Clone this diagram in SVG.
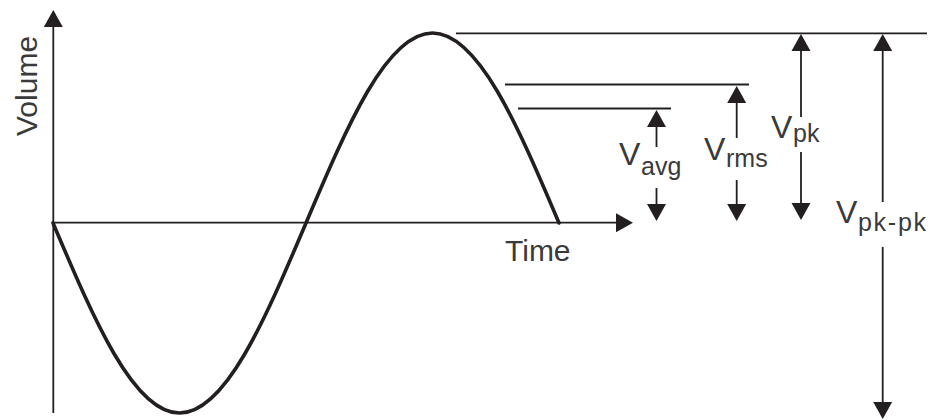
<svg xmlns="http://www.w3.org/2000/svg" width="941" height="420" viewBox="0 0 941 420">
<style>
.ln{stroke:#231f20;stroke-width:1.8;fill:none}
.wave{stroke:#231f20;stroke-width:3.6;fill:none;stroke-linecap:round}
.lbl{font-family:"Liberation Sans",Arial,sans-serif;fill:#3a3a3a}
.big{font-size:32px}
.sub{font-size:25px}
</style>
<defs>
<marker id="ah" markerUnits="userSpaceOnUse" markerWidth="18" markerHeight="20" refX="0" refY="9.5" orient="auto" viewBox="0 0 18 19">
<path d="M0,0 L17,9.5 L0,19 Z" fill="#231f20"/>
</marker>
</defs>
<rect width="941" height="420" fill="#fff"/>
<g id="axes">
<line class="ln" x1="53.3" y1="413" x2="53.3" y2="27" marker-end="url(#ah)"/>
<line class="ln" x1="53" y1="222.7" x2="616" y2="222.7" marker-end="url(#ah)"/>
<text class="lbl" font-size="30" transform="translate(37,136) rotate(-90)">Volume</text>
<text class="lbl" font-size="30" x="505" y="261">Time</text>
</g>
<g id="wave">
<path class="wave" d="M53,223 C94.25,320.3 133.7,413 179.5,413 C225.3,413 264.75,320.3 306,223 C347.25,125.7 386.7,33 432.5,33 C478.3,33 517.75,125.7 559,223"/>
</g>
<g id="levels">
<line class="ln" x1="456" y1="33.3" x2="927" y2="33.3"/>
<line class="ln" x1="505" y1="84.5" x2="749" y2="84.5"/>
<line class="ln" x1="518" y1="108.5" x2="671" y2="108.5"/>
</g>
<g id="connectors">
<line class="ln" x1="656.5" y1="147" x2="656.5" y2="127" marker-end="url(#ah)"/>
<line class="ln" x1="656.5" y1="188" x2="656.5" y2="204" marker-end="url(#ah)"/>
<line class="ln" x1="736.7" y1="138" x2="736.7" y2="103" marker-end="url(#ah)"/>
<line class="ln" x1="736.7" y1="180" x2="736.7" y2="204" marker-end="url(#ah)"/>
<line class="ln" x1="801" y1="117" x2="801" y2="51" marker-end="url(#ah)"/>
<line class="ln" x1="801" y1="152" x2="801" y2="203" marker-end="url(#ah)"/>
<line class="ln" x1="882.7" y1="202" x2="882.7" y2="51" marker-end="url(#ah)"/>
<line class="ln" x1="882.7" y1="247" x2="882.7" y2="402" marker-end="url(#ah)"/>
</g>
<g id="label-vavg">
<text class="lbl big" x="619" y="165">V</text>
<text class="lbl sub" x="641" y="175">avg</text>
</g>
<g id="label-vrms">
<text class="lbl big" x="704" y="160">V</text>
<text class="lbl sub" x="726" y="167">rms</text>
</g>
<g id="label-vpk">
<text class="lbl big" x="771" y="138">V</text>
<text class="lbl sub" x="793" y="142">pk</text>
</g>
<g id="label-vpkpk">
<text class="lbl big" x="836" y="223">V</text>
<text class="lbl sub" x="858" y="231" textLength="68" lengthAdjust="spacing">pk-pk</text>
</g>
</svg>
